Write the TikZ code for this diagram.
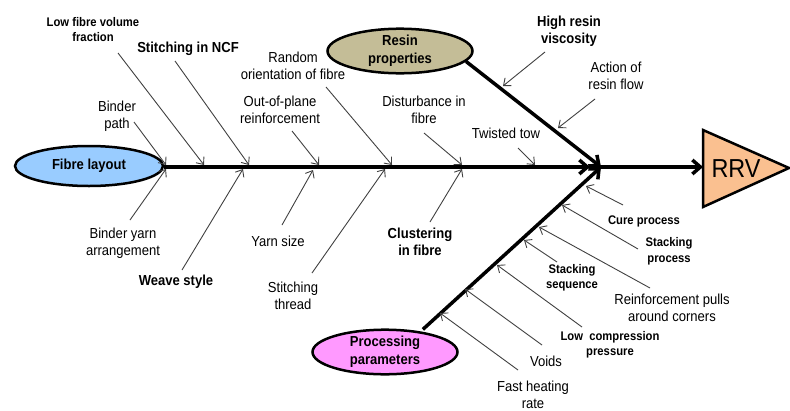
\documentclass[tikz,border=0pt]{standalone}
\usepackage{fontspec}
\setmainfont{Liberation Sans}[FakeStretch=0.9]
\usetikzlibrary{arrows.meta,shapes.geometric}
\definecolor{fibreblue}{HTML}{99CCFF}
\definecolor{resintan}{HTML}{C4BD97}
\definecolor{procpink}{HTML}{FF99FF}
\definecolor{rrvorange}{HTML}{FAC090}
\begin{document}
\begin{tikzpicture}[x=1pt,y=-1pt,
  lab/.style={align=center,inner sep=0pt,font=\fontsize{14.5}{17}\selectfont},
  labb/.style={align=center,inner sep=0pt,font=\fontsize{14.5}{17}\selectfont\bfseries},
  labs/.style={align=center,inner sep=0pt,font=\fontsize{12.5}{15.5}\selectfont\bfseries},
  cat/.style={ellipse,draw=black,line width=2.5pt,minimum width=145pt,minimum height=41pt,
    inner sep=0pt,align=center,font=\fontsize{14.5}{18}\selectfont\bfseries},
  bone/.style={draw=black,line width=3.5pt,-{Straight Barb[length=8pt,width=14pt]}},
  sub/.style={draw=black!75,line width=0.9pt,-{Straight Barb[length=6pt,width=10pt]}},
]
\useasboundingbox (0,0) rectangle (790,410);

% category ellipses
\node[cat,fill=fibreblue,minimum width=148pt,minimum height=40pt] (fibre) at (89,166) {Fibre layout};
\node[cat,fill=resintan] (resin) at (400,51) {Resin\\properties};
\node[cat,fill=procpink,minimum height=43pt] (proc) at (385,352) {Processing\\parameters};

% effect
\filldraw[fill=rrvorange,draw=black,line width=2.5pt,line join=miter] (703,130) -- (789,168) -- (703,207) -- cycle;
\node[font=\fontsize{26}{26}\selectfont,inner sep=0pt] (rrv) at (736,169) {RRV};

% bones
\coordinate (sp) at (590,167);
\coordinate (J) at (601,167);
\coordinate (rrvin) at (703,167);
\draw[bone] (fibre.east |- sp) -- (sp);
\draw[bone] (sp) -- (rrvin);
\draw[bone] (resin.-9) -- (J);
\draw[bone,shorten <=3pt] (proc.30) -- (J);

% labels
\node[labs] (lfvf) at (93,29.5) {Low fibre volume\\fraction};
\node[labb] (ncf) at (188,49) {Stitching in NCF};
\node[lab] (binderpath) at (117,116) {Binder\\path};
\node[lab] (random) at (293,66) {Random\\orientation of fibre};
\node[lab] (oop) at (280,110) {Out-of-plane\\reinforcement};
\node[lab] (dist) at (424,110) {Disturbance in\\fibre};
\node[lab] (twisted) at (506,133) {Twisted tow};
\node[labb] (hrv) at (569,31.5) {High resin\\viscosity};
\node[lab] (action) at (616,75.5) {Action of\\resin flow};
\node[lab] (binderyarn) at (123,243) {Binder yarn\\arrangement};
\node[labb] (weave) at (176,282) {Weave style};
\node[lab] (yarn) at (278,241) {Yarn size};
\node[lab] (stthread) at (293,295.5) {Stitching\\thread};
\node[labb] (clust) at (420,241.5) {Clustering\\in fibre};
\node[lab] (voids) at (546,361) {Voids};
\node[lab] (fast) at (533,394.5) {Fast heating\\rate};
\node[labs] (lcp) at (610,345) {Low\enspace compression\\pressure};
\node[labs] (stseq) at (572,278) {Stacking\\sequence};
\node[lab] (reinf) at (672,307.5) {Reinforcement pulls\\around corners};
\node[labs] (stproc) at (669,251.5) {Stacking\\process};
\node[labs] (cure) at (644,221) {Cure process};

% sub-cause arrows: tails and heads
\coordinate (t-binderpath) at (134,122);  \coordinate (h-binderpath) at (166,165);
\coordinate (t-lfvf) at (118,53);         \coordinate (h-lfvf) at (204,165);
\coordinate (t-ncf) at (175,61);          \coordinate (h-ncf) at (249,165);
\coordinate (t-oop) at (292,131);         \coordinate (h-oop) at (319,165);
\coordinate (t-random) at (326,87);       \coordinate (h-random) at (392,165);
\coordinate (t-dist) at (424,133);        \coordinate (h-dist) at (462,165);
\coordinate (t-twisted) at (518,148);     \coordinate (h-twisted) at (535,165);
\coordinate (t-hrv) at (545,52);          \coordinate (h-hrv) at (503,86);
\coordinate (t-action) at (595,99);       \coordinate (h-action) at (558,128);
\coordinate (t-binderyarn) at (130,220);  \coordinate (h-binderyarn) at (166,169);
\coordinate (t-weave) at (182,270);       \coordinate (h-weave) at (243,169);
\coordinate (t-yarn) at (282,225);        \coordinate (h-yarn) at (313,170);
\coordinate (t-stthread) at (312,273);    \coordinate (h-stthread) at (385,169);
\coordinate (t-clust) at (430,222);       \coordinate (h-clust) at (462,169);
\coordinate (t-fast) at (518,370);        \coordinate (h-fast) at (440,313);
\coordinate (t-voids) at (542,345);       \coordinate (h-voids) at (465,289);
\coordinate (t-lcp) at (582,327);         \coordinate (h-lcp) at (497,265);
\coordinate (t-stseq) at (557,262);       \coordinate (h-stseq) at (524,240);
\coordinate (t-reinf) at (650,288);       \coordinate (h-reinf) at (539,227);
\coordinate (t-stproc) at (638,249);      \coordinate (h-stproc) at (562,205);
\coordinate (t-cure) at (623,205);        \coordinate (h-cure) at (586,186);

\foreach \n in {binderpath,lfvf,ncf,oop,random,dist,twisted,hrv,action,
  binderyarn,weave,yarn,stthread,clust,fast,voids,lcp,stseq,reinf,stproc,cure}
  {\draw[sub] (t-\n) -- (h-\n);}
\end{tikzpicture}
\end{document}
